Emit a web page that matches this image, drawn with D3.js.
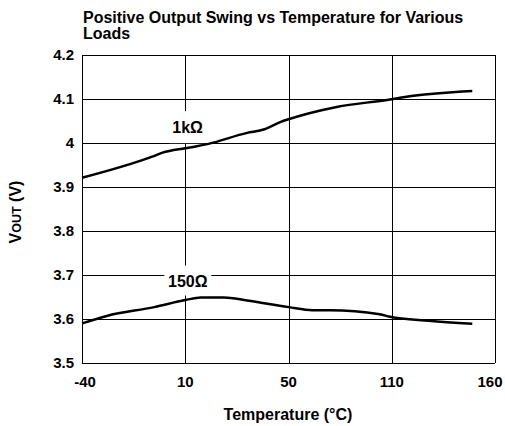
<!DOCTYPE html>
<html>
<head>
<meta charset="utf-8">
<script src="https://cdn.jsdelivr.net/npm/d3@7"></script>
<style>
  body { margin: 0; background: #fff; }
  svg { display: block; font-family: "Liberation Sans", Arial, sans-serif; font-weight: bold; }
  .tick-label { font-size: 15px; }
</style>
</head>
<body>
<div id="chart"></div>
<script>

// x ticks (unevenly spaced temperatures, drawn evenly)
var tempTicks = [-40, 10, 50, 110, 160];
var voutTicks = [3.5, 3.6, 3.7, 3.8, 3.9, 4, 4.1, 4.2];

// 1k load
var temp1k = [-40, -6, -1, 10, 14, 19, 34, 40, 47, 50, 78, 109, 114, 141, 149];
var vout1k = [3.921, 3.969, 3.978, 3.988, 3.992, 3.998, 4.023, 4.030, 4.048, 4.054, 4.082, 4.099, 4.103, 4.116, 4.118];

// 150 ohm load
var temp150 = [-40, -28, -5, 10, 16, 25, 34, 50, 64, 74, 103, 109, 128, 149];
var vout150 = [3.590, 3.607, 3.627, 3.643, 3.649, 3.649, 3.642, 3.627, 3.620, 3.620, 3.611, 3.605, 3.596, 3.589];

var W = 505, H = 426;
var margin = {top: 55, right: 10, bottom: 63, left: 82};
var width = W - margin.left - margin.right;
var height = H - margin.top - margin.bottom;

var x = d3.scaleLinear()
    .domain(tempTicks)
    .range(tempTicks.map(function(d, i) { return i * width / (tempTicks.length - 1); }));

var y = d3.scaleLinear()
    .domain([3.5, 4.2])
    .range([height, 0]);

var svg = d3.select('#chart')
    .append('svg')
    .attr('width', W)
    .attr('height', H);

svg.append('text')
    .attr('x', 83)
    .attr('y', 23)
    .style('font-size', '16px')
    .text('Positive Output Swing vs Temperature for Various');

svg.append('text')
    .attr('x', 83)
    .attr('y', 39)
    .style('font-size', '16px')
    .text('Loads');

var g = svg.append('g')
    .attr('transform', 'translate(' + margin.left + ',' + margin.top + ')');

// grid
g.selectAll('.hgrid')
    .data(voutTicks)
  .enter().append('line')
    .attr('x1', 0).attr('x2', width)
    .attr('y1', function(d) { return Math.round(y(d)) + 0.5; })
    .attr('y2', function(d) { return Math.round(y(d)) + 0.5; })
    .attr('stroke', '#000');

g.selectAll('.vgrid')
    .data(tempTicks)
  .enter().append('line')
    .attr('x1', function(d) { return Math.round(x(d)) + 0.5; })
    .attr('x2', function(d) { return Math.round(x(d)) + 0.5; })
    .attr('y1', 0).attr('y2', height)
    .attr('stroke', '#000');

// tick labels
g.selectAll('.ylab')
    .data(voutTicks)
  .enter().append('text')
    .attr('class', 'tick-label')
    .attr('x', -8)
    .attr('y', function(d) { return y(d) + 5; })
    .attr('text-anchor', 'end')
    .text(function(d) { return d; });

//  edge labels get pulled in a little so they stay on the page
g.selectAll('.xlab')
    .data(tempTicks)
  .enter().append('text')
    .attr('class', 'tick-label')
    .attr('x', function(d) { return Math.max(3, Math.min(x(d), width - 5)); })
    .attr('y', height + 24)
    .attr('text-anchor', 'middle')
    .text(function(d) { return d; });

// axis titles
svg.append('text')
    .attr('x', 288)
    .attr('y', 420)
    .attr('text-anchor', 'middle')
    .style('font-size', '16px')
    .text('Temperature (°C)');

var ytitle = svg.append('text')
    .attr('transform', 'translate(21,212) rotate(-90)')
    .attr('text-anchor', 'middle')
    .style('font-size', '16px');
ytitle.append('tspan').text('V');
ytitle.append('tspan').style('font-size', '12.5px').text('OUT');
ytitle.append('tspan').text(' (V)');

// curve labels with white boxes over grid
function curveLabel(tx, v, txt, bw, bh) {
    var cx = x(tx), cy = y(v);
    g.append('rect')
        .attr('x', cx - bw / 2).attr('y', cy - bh / 2)
        .attr('width', bw).attr('height', bh)
        .attr('fill', '#fff');
    g.append('text')
        .attr('x', cx)
        .attr('y', cy + 6)
        .attr('text-anchor', 'middle')
        .style('font-size', '16px')
        .text(txt);
}

curveLabel(10.9, 4.036, '1k\u03A9', 36, 32);
curveLabel(11, 3.6875, '150\u03A9', 47, 30);

// curves
var line = d3.line()
    .x(function(d) { return x(d[0]); })
    .y(function(d) { return y(d[1]); })
    .curve(d3.curveMonotoneX);

g.append('path')
    .datum(d3.zip(temp1k, vout1k))
    .attr('d', line)
    .attr('fill', 'none')
    .attr('stroke', '#000')
    .attr('stroke-width', 2.5);

g.append('path')
    .datum(d3.zip(temp150, vout150))
    .attr('d', line)
    .attr('fill', 'none')
    .attr('stroke', '#000')
    .attr('stroke-width', 2.5);

</script>
</body>
</html>
